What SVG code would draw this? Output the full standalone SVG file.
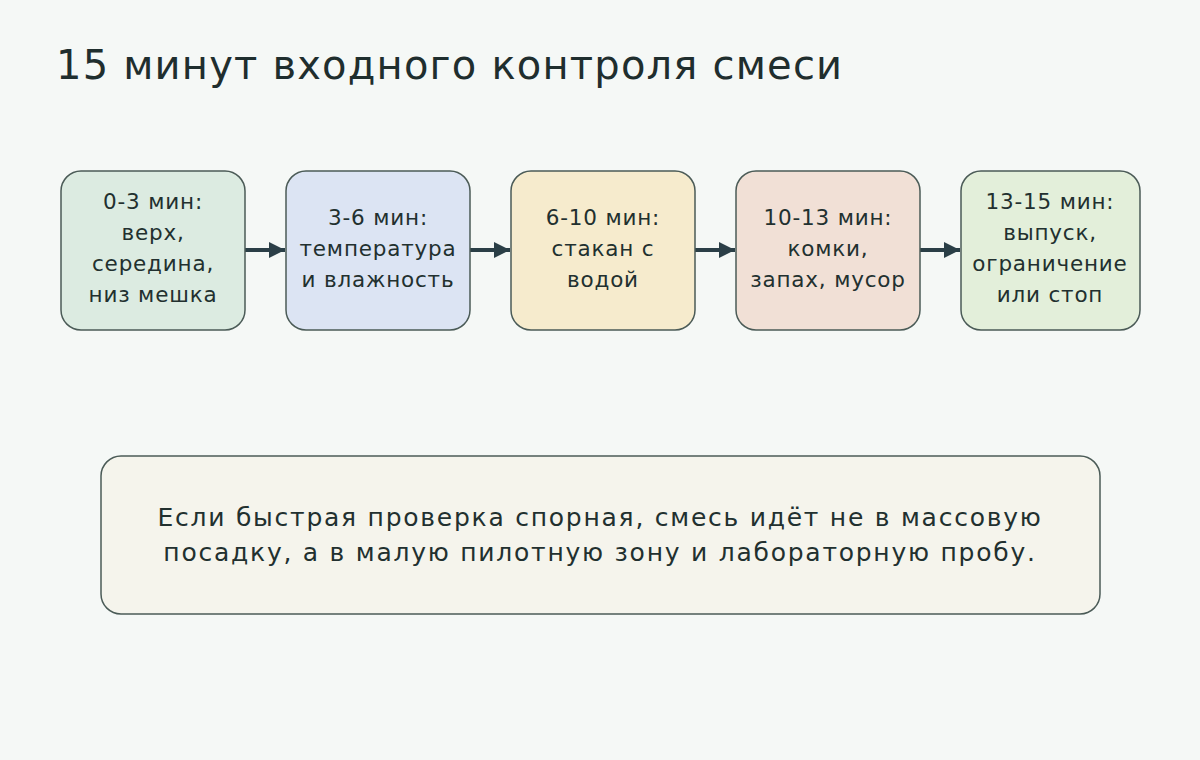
<svg xmlns="http://www.w3.org/2000/svg" width="1200" height="760" viewBox="0 0 1200 760">
<defs>
<style>
.bg{fill:#f5f8f6}
.title{font-family:"DejaVu Sans",sans-serif;font-size:40px;fill:#1f2e2e;letter-spacing:1.2px}
.box{stroke:#4b5b57;stroke-width:1.5}
.t{font-family:"DejaVu Sans",sans-serif;font-size:21.5px;fill:#22302f;text-anchor:middle;letter-spacing:0.8px}
.n{font-family:"DejaVu Sans",sans-serif;font-size:25px;fill:#22302f;text-anchor:middle;letter-spacing:1.75px}
.c{stroke:#2b3f47;stroke-width:4;fill:none}
</style>
<marker id="ah" viewBox="0 0 10 10" refX="10" refY="5" markerWidth="4.5" markerHeight="4" orient="auto" markerUnits="strokeWidth">
<path d="M0,0 L10,5 L0,10 z" fill="#2b3f47"/>
</marker>
</defs>
<rect class="bg" x="0" y="0" width="1200" height="760"/>
<text class="title" x="56" y="79">15 минут входного контроля смеси</text>
<g id="connectors">
<line class="c" x1="245" y1="250" x2="285" y2="250" marker-end="url(#ah)"/>
<line class="c" x1="470" y1="250" x2="510" y2="250" marker-end="url(#ah)"/>
<line class="c" x1="695" y1="250" x2="735" y2="250" marker-end="url(#ah)"/>
<line class="c" x1="920" y1="250" x2="960" y2="250" marker-end="url(#ah)"/>
</g>
<g id="n1">
<rect class="box" x="61" y="171" width="184" height="159" rx="20" fill="#dcebe1"/>
<text class="t" x="153" y="209">0-3 мин:</text>
<text class="t" x="153" y="240">верх,</text>
<text class="t" x="153" y="271">середина,</text>
<text class="t" x="153" y="302">низ мешка</text>
</g>
<g id="n2">
<rect class="box" x="286" y="171" width="184" height="159" rx="20" fill="#dce4f3"/>
<text class="t" x="378" y="225">3-6 мин:</text>
<text class="t" x="378" y="256">температура</text>
<text class="t" x="378" y="287">и влажность</text>
</g>
<g id="n3">
<rect class="box" x="511" y="171" width="184" height="159" rx="20" fill="#f6ebcd"/>
<text class="t" x="603" y="225">6-10 мин:</text>
<text class="t" x="603" y="256">стакан с</text>
<text class="t" x="603" y="287">водой</text>
</g>
<g id="n4">
<rect class="box" x="736" y="171" width="184" height="159" rx="20" fill="#f1e0d6"/>
<text class="t" x="828" y="225">10-13 мин:</text>
<text class="t" x="828" y="256">комки,</text>
<text class="t" x="828" y="287">запах, мусор</text>
</g>
<g id="n5">
<rect class="box" x="961" y="171" width="179" height="159" rx="20" fill="#e3efda"/>
<text class="t" x="1050" y="209">13-15 мин:</text>
<text class="t" x="1050" y="240">выпуск,</text>
<text class="t" x="1050" y="271">ограничение</text>
<text class="t" x="1050" y="302">или стоп</text>
</g>
<g id="note">
<rect class="box" x="101" y="456" width="999" height="158" rx="20" fill="#f5f4ec"/>
<text class="n" x="600" y="526">Если быстрая проверка спорная, смесь идёт не в массовую</text>
<text class="n" x="600" y="561">посадку, а в малую пилотную зону и лабораторную пробу.</text>
</g>
</svg>
